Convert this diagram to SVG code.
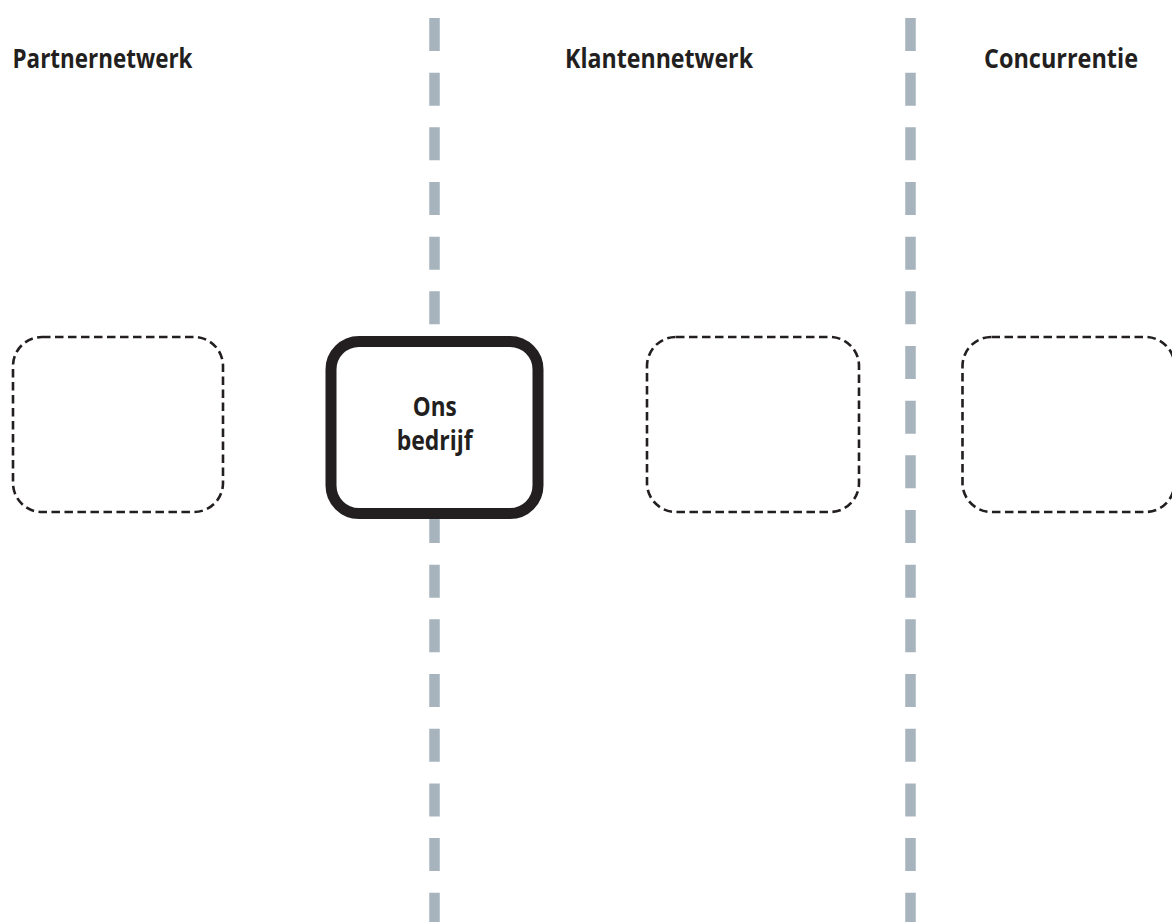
<svg xmlns="http://www.w3.org/2000/svg" width="1172" height="922" viewBox="0 0 1172 922">
  <style>
    .title { font-family: "Open Sans", "Noto Sans", "Liberation Sans", sans-serif; font-weight: 700; font-size: 26px; fill: #231f20; }
    .divider { stroke: #a7b4bd; stroke-width: 10.5; stroke-dasharray: 33 21.67; fill: none; }
    .slot { fill: none; stroke: #231f20; stroke-width: 2.6; stroke-dasharray: 8.5 4.5; }
    .core { fill: #ffffff; stroke: #231f20; stroke-width: 11; }
  </style>
  <rect width="1172" height="922" fill="#ffffff"/>

  <!-- column separators -->
  <g id="connectors">
    <line class="divider" x1="434.5" y1="18" x2="434.5" y2="922"/>
    <line class="divider" x1="910.5" y1="18" x2="910.5" y2="922"/>
  </g>

  <!-- column headings -->
  <g id="headings">
    <text class="title" x="12.5" y="67.7" textLength="180" lengthAdjust="spacingAndGlyphs">Partnernetwerk</text>
    <text class="title" x="565" y="67.7" textLength="188" lengthAdjust="spacingAndGlyphs">Klantennetwerk</text>
    <text class="title" x="984" y="67.7" textLength="154" lengthAdjust="spacingAndGlyphs">Concurrentie</text>
  </g>

  <g id="partner">
    <rect class="slot" x="13" y="337" width="210" height="175" rx="29" ry="29"/>
  </g>

  <g id="ons-bedrijf">
    <rect class="core" x="331" y="341.5" width="207" height="172" rx="28" ry="28"/>
    <text class="title" x="434.7" y="416" text-anchor="middle" textLength="44" lengthAdjust="spacingAndGlyphs">Ons</text>
    <text class="title" x="434.7" y="450" text-anchor="middle" textLength="76" lengthAdjust="spacingAndGlyphs">bedrijf</text>
  </g>

  <g id="klant">
    <rect class="slot" x="647" y="337" width="212" height="175" rx="29" ry="29"/>
  </g>

  <g id="concurrent">
    <rect class="slot" x="962.5" y="337" width="212" height="175" rx="29" ry="29"/>
  </g>
</svg>
